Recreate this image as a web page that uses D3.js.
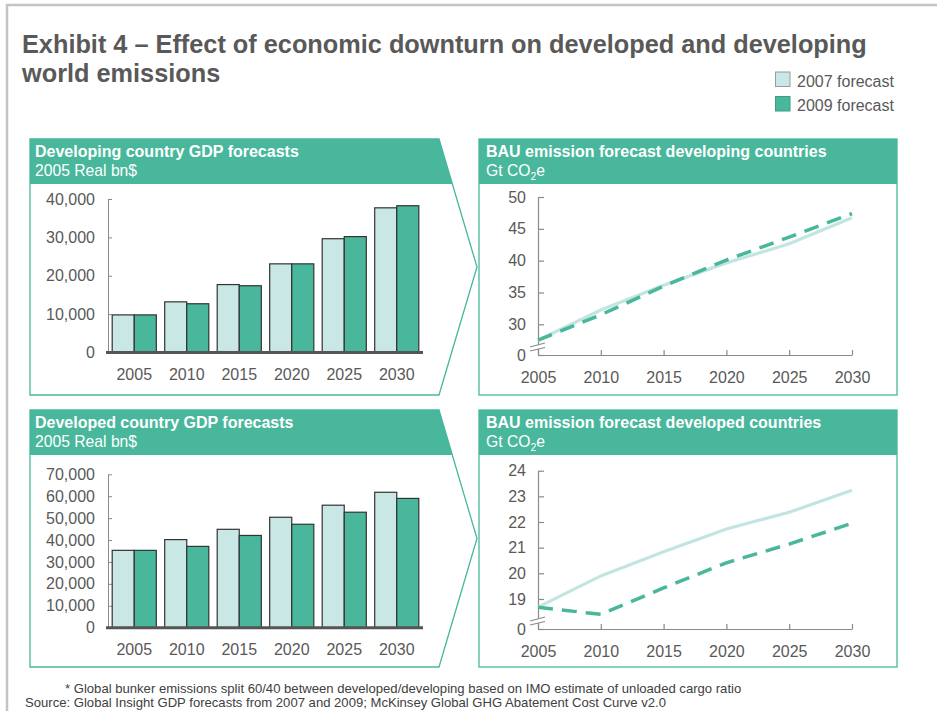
<!DOCTYPE html>
<html>
<head>
<meta charset="utf-8">
<script src="https://cdn.jsdelivr.net/npm/d3@7"></script>
<style>
  html, body { margin: 0; padding: 0; background: #ffffff; }
  svg { display: block; font-family: "Liberation Sans", Arial, sans-serif; }
</style>
</head>
<body>
<svg id="chart" width="937" height="711"></svg>
<script>
// ---- Data ----
const years = [2005, 2010, 2015, 2020, 2025, 2030];
const seriesNames = ["2007 forecast", "2009 forecast"];

// GDP forecasts, 2005 real bn$
const developingGdp2007 = [9800, 13200, 17700, 23100, 29650, 37700];
const developingGdp2009 = [9800, 12700, 17400, 23100, 30200, 38250];
const developedGdp2007 = [35300, 40200, 44900, 50400, 55900, 61800];
const developedGdp2009 = [35300, 37100, 42100, 47200, 52700, 59000];

// BAU emission forecasts, Gt CO2e
const developingBau2007 = [27.5, 32.25, 36.15, 39.65, 42.65, 46.75];
const developingBau2009 = [27.5, 31.5, 36.0, 40.1, 43.7, 47.4];
const developedBau2007 = [18.68, 19.9, 20.84, 21.73, 22.38, 23.24];
const developedBau2009 = [18.68, 18.4, 19.43, 20.41, 21.14, 21.95];

// Axis ticks
const developingGdpTicks = [0, 10000, 20000, 30000, 40000];
const developedGdpTicks = [0, 10000, 20000, 30000, 40000, 50000, 60000, 70000];
const developingBauTicks = [30, 35, 40, 45, 50];
const developedBauTicks = [19, 20, 21, 22, 23, 24];
// Value shown at the bottom of each broken emission axis (labelled "0")
const developingBauFloor = 25.18;
const developedBauFloor = 17.83;

// ---- Styles ----
const GREEN = "#48b79b";
const LIGHT = "#c9e7e5";
const LIGHT_LINE = "#c3e5e1";
const TEXT = "#595959";
const AXIS = "#8a8a8a";
const FONT = "'Liberation Sans', Arial, sans-serif";

const svg = d3.select("#chart");

// Outer frame
svg.append("rect")
  .attr("x", 7).attr("y", 5).attr("width", 1000).attr("height", 800)
  .attr("fill", "none").attr("stroke", "#c4c4c4").attr("stroke-width", 2.5);

// Title
const title = svg.append("text")
  .attr("x", 22).attr("y", 53)
  .attr("font-size", 25.3).attr("font-weight", "bold").attr("fill", TEXT);
title.append("tspan").attr("x", 22).text("Exhibit 4 \u2013 Effect of economic downturn on developed and developing");
title.append("tspan").attr("x", 22).attr("dy", 29).text("world emissions");

// Legend
const legend = svg.append("g");
seriesNames.forEach((name, i) => {
  const y = 72 + i * 24.5;
  legend.append("rect")
    .attr("x", 775.5).attr("y", y).attr("width", 14.5).attr("height", 14.5)
    .attr("fill", i === 0 ? LIGHT : GREEN)
    .attr("stroke", i === 0 ? "#9a9a9a" : "#3d9c84").attr("stroke-width", 1);
  legend.append("text")
    .attr("x", 797).attr("y", y + 14.5)
    .attr("font-size", 16).attr("fill", TEXT).text(name);
});

// ---- Panel frames ----
const HEADER_H = 45;

function headerText(g, x, y, bold, sub) {
  g.append("text").attr("x", x).attr("y", y + 18)
    .attr("font-size", 16).attr("font-weight", "bold").attr("fill", "#ffffff").text(bold);
  const t = g.append("text").attr("x", x).attr("y", y + 36.5)
    .attr("font-size", 15.7).attr("fill", "#ffffff");
  if (sub === "co2") {
    t.append("tspan").text("Gt CO");
    t.append("tspan").attr("font-size", 10.5).attr("dy", 4).text("2");
    t.append("tspan").attr("dy", -4).text("e");
  } else {
    t.text(sub);
  }
}

function arrowPanel(x0, y0, x1, tipX, h, bold, sub) {
  const g = svg.append("g");
  const half = h / 2;
  const hx = x1 + (tipX - x1) * (HEADER_H / half);
  g.append("path")
    .attr("d", `M${x0},${y0}H${x1}L${hx},${y0 + HEADER_H}H${x0}Z`)
    .attr("fill", GREEN);
  g.append("path")
    .attr("d", `M${x0},${y0}H${x1}L${tipX},${y0 + half}L${x1},${y0 + h}H${x0}Z`)
    .attr("fill", "none").attr("stroke", GREEN).attr("stroke-width", 1.3);
  headerText(g, x0 + 5, y0, bold, sub);
}

function boxPanel(x0, y0, x1, h, bold, sub) {
  const g = svg.append("g");
  g.append("rect").attr("x", x0).attr("y", y0).attr("width", x1 - x0).attr("height", HEADER_H)
    .attr("fill", GREEN);
  g.append("rect").attr("x", x0).attr("y", y0).attr("width", x1 - x0).attr("height", h)
    .attr("fill", "none").attr("stroke", GREEN).attr("stroke-width", 1.3);
  headerText(g, x0 + 7, y0, bold, sub);
}

arrowPanel(30, 139, 439, 477, 256, "Developing country GDP forecasts", "2005 Real bn$");
arrowPanel(30, 410, 439, 477, 257, "Developed country GDP forecasts", "2005 Real bn$");
boxPanel(479, 139, 897, 256, "BAU emission forecast developing countries", "co2");
boxPanel(479, 410, 897, 257, "BAU emission forecast developed countries", "co2");

// ---- Grouped bar charts ----
function barChart(v2007, v2009, ticks, yTop, yBottom) {
  const g = svg.append("g");
  const x = d3.scaleBand().domain(years).range([108, 423]).paddingInner(0.16).paddingOuter(0.08);
  const xs = d3.scaleBand().domain(seriesNames).range([0, x.bandwidth()]);
  const y = d3.scaleLinear().domain([0, d3.max(ticks)]).range([yBottom, yTop]);
  const rows = years.map((yr, i) => ({ year: yr, values: [v2007[i], v2009[i]] }));

  const yAxis = g.append("g").attr("transform", "translate(108,0)")
    .call(d3.axisLeft(y).tickValues(ticks).tickSize(-4).tickSizeOuter(0)
      .tickPadding(13).tickFormat(d3.format(",")));
  yAxis.selectAll("path, line").attr("stroke", AXIS);
  yAxis.selectAll("text").attr("font-size", 16).attr("fill", TEXT).attr("font-family", FONT);

  g.selectAll("g.grp").data(rows).join("g")
    .attr("transform", d => `translate(${x(d.year)},0)`)
    .selectAll("rect").data(d => d.values.map((v, j) => ({ v, s: seriesNames[j] }))).join("rect")
    .attr("x", d => xs(d.s)).attr("width", xs.bandwidth())
    .attr("y", d => y(d.v)).attr("height", d => y(0) - y(d.v))
    .attr("fill", (d, j) => j === 0 ? LIGHT : GREEN)
    .attr("stroke", "#333333").attr("stroke-width", 1.2);

  const xAxis = g.append("g").attr("transform", `translate(0,${y(0)})`)
    .call(d3.axisBottom(x).tickSize(0).tickPadding(16).tickFormat(d3.format("d")));
  xAxis.select(".domain").attr("stroke", "#555555").attr("stroke-width", 3)
    .attr("d", "M106,0H423");
  xAxis.selectAll("text").attr("font-size", 16).attr("fill", TEXT).attr("font-family", FONT);
}

barChart(developingGdp2007, developingGdp2009, developingGdpTicks, 199, 352.5);
barChart(developedGdp2007, developedGdp2009, developedGdpTicks, 474.3, 627.7);

// ---- Line charts with a broken value axis ----
function lineChart(v2007, v2009, ticks, floor, yTop, yBottom) {
  const g = svg.append("g");
  const x = d3.scaleLinear().domain([2005, 2030]).range([538, 852]);
  const y = d3.scaleLinear().domain([floor, d3.max(ticks)]).range([yBottom, yTop]);

  const yAxis = g.append("g").attr("transform", "translate(538,0)")
    .call(d3.axisLeft(y).tickValues([floor, ...ticks]).tickSize(-6).tickSizeOuter(0)
      .tickPadding(12).tickFormat(d => d === floor ? "0" : d3.format("d")(d)));
  yAxis.selectAll("path, line").attr("stroke", AXIS).attr("stroke-width", 1.2);
  yAxis.selectAll("text").attr("font-size", 16).attr("fill", TEXT).attr("font-family", FONT);

  const xAxis = g.append("g").attr("transform", `translate(0,${yBottom})`)
    .call(d3.axisBottom(x).tickValues(years).tickSize(-5).tickSizeOuter(0)
      .tickPadding(17).tickFormat(d3.format("d")));
  xAxis.selectAll("path, line").attr("stroke", AXIS).attr("stroke-width", 1.2);
  xAxis.selectAll("text").attr("font-size", 16).attr("fill", TEXT).attr("font-family", FONT);

  // Axis break marks
  const ax = 538, b = yBottom;
  g.append("path")
    .attr("d", `M${ax - 8},${b - 8}L${ax + 7},${b - 12}L${ax + 7},${b - 7.5}L${ax - 8},${b - 4}Z`)
    .attr("fill", "#ffffff");
  [[b - 8, b - 12], [b - 4, b - 7.5]].forEach(([ya, yb]) => {
    g.append("line").attr("x1", ax - 8).attr("y1", ya).attr("x2", ax + 7).attr("y2", yb)
      .attr("stroke", AXIS).attr("stroke-width", 1.2);
  });

  const line = d3.line().x((d, i) => x(years[i])).y(d => y(d));
  g.append("path").datum(v2007).attr("d", line)
    .attr("fill", "none").attr("stroke", LIGHT_LINE).attr("stroke-width", 3.2);
  g.append("path").datum(v2009).attr("d", line)
    .attr("fill", "none").attr("stroke", GREEN).attr("stroke-width", 3.5)
    .attr("stroke-dasharray", "15,9");
}

lineChart(developingBau2007, developingBau2009, developingBauTicks, developingBauFloor, 197, 355);
lineChart(developedBau2007, developedBau2009, developedBauTicks, developedBauFloor, 470.7, 629);

// ---- Notes ----
svg.append("text").attr("x", 65).attr("y", 693)
  .attr("font-size", 13.1).attr("fill", "#404040")
  .text("* Global bunker emissions split 60/40 between developed/developing based on IMO estimate of unloaded cargo ratio");
svg.append("text").attr("x", 25).attr("y", 707)
  .attr("font-size", 13.1).attr("fill", "#404040")
  .text("Source: Global Insight GDP forecasts from 2007 and 2009; McKinsey Global GHG Abatement Cost Curve v2.0");
</script>
</body>
</html>
